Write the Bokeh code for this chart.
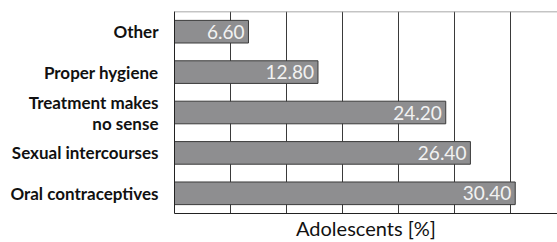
from bokeh.plotting import figure
from bokeh.models import ColumnDataSource, FixedTicker, Span, Range1d
from bokeh.core.properties import value
from bokeh.embed import file_html
from bokeh.resources import INLINE

categories = ["Oral contraceptives", "Sexual intercourses", "Treatment makes\nno sense", "Proper hygiene", "Other"]
values = [30.40, 26.40, 24.20, 12.80, 6.60]
labels = ["30.40", "26.40", "24.20", "12.80", "6.60"]

ypos = list(range(len(categories)))
src = ColumnDataSource(dict(y=ypos, v=values, lab=labels))

p = figure(width=557, height=242, output_backend="svg", toolbar_location=None,
           x_range=Range1d(0, 34.17), y_range=Range1d(-0.5, 4.5),
           min_border_left=174, min_border_right=0, min_border_top=11, min_border_bottom=27)
p.outline_line_color = None
p.background_fill_color = "white"

p.hbar(y="y", right="v", left=0, height=0.56, source=src,
       fill_color="#8e8e90", line_color="#3a3a3a", line_width=1)
p.text(x="v", y="y", text="lab", source=src, x_offset=-4,
       text_align="right", text_baseline="middle", text_color="#f2f2f2",
       text_font=value("Lato"), text_font_size="19px")

p.add_layout(Span(location=4.5, dimension="width", line_color="#8a8a8a", line_width=1.5))

p.xgrid.ticker = FixedTicker(ticks=[5, 10, 15, 20, 25, 30])
p.xgrid.grid_line_color = "#3a3a3a"
p.xgrid.grid_line_alpha = 1
p.ygrid.grid_line_color = None

p.xaxis.ticker = FixedTicker(ticks=[])
p.xaxis.major_tick_line_color = None
p.xaxis.minor_tick_line_color = None
p.xaxis.major_label_text_font_size = "0px"
p.xaxis.axis_line_color = "#222222"
p.xaxis.axis_label = "Adolescents [%]"
p.xaxis.axis_label_text_font = "Lato"
p.xaxis.axis_label_text_font_style = "normal"
p.xaxis.axis_label_text_font_size = "20px"
p.xaxis.axis_label_text_color = "#111111"
p.xaxis.axis_label_standoff = 2

p.yaxis.ticker = FixedTicker(ticks=ypos)
p.yaxis.major_label_overrides = {i: c for i, c in zip(ypos, categories)}
p.yaxis.major_tick_line_color = None
p.yaxis.minor_tick_line_color = None
p.yaxis.axis_line_color = "#222222"
p.yaxis.major_label_text_font = "Lato"
p.yaxis.major_label_text_font_style = "bold"
p.yaxis.major_label_text_font_size = "17px"
p.yaxis.major_label_text_line_height = 1.0
p.yaxis.major_label_text_color = "#111111"
p.yaxis.major_label_standoff = 10

open("out.html", "w").write(file_html(p, INLINE))
